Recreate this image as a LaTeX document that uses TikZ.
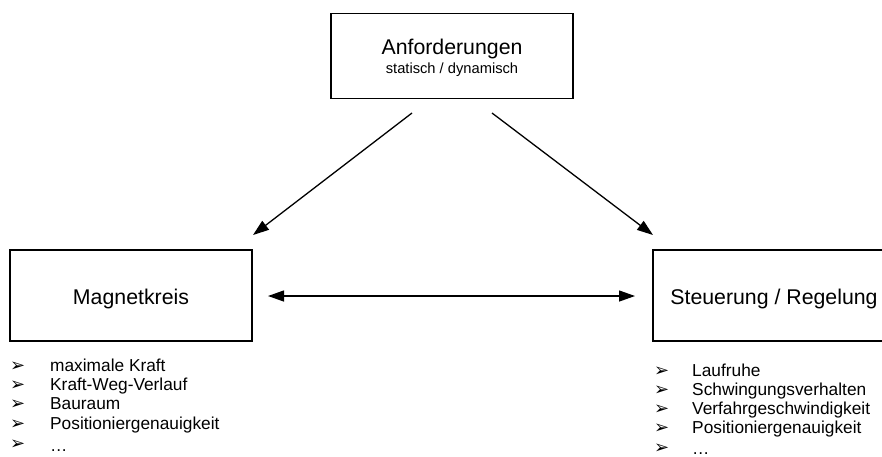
\documentclass[tikz,border=0pt]{standalone}
\usepackage{fontspec}
\setmainfont{Liberation Sans}
\newfontfamily\dejavu{DejaVu Sans}
\usetikzlibrary{arrows.meta}
\tikzset{
  box/.style={draw=black, line width=1.5pt, minimum width=242pt, minimum height=91pt, inner sep=0pt},
  boxtext/.style={font=\fontsize{21.3}{24}\selectfont},
  conn/.style={line width=1.3pt, -{Triangle[length=16pt,width=11pt]}},
  dconn/.style={line width=1.3pt, {Triangle[length=16pt,width=11pt]}-{Triangle[length=16pt,width=11pt]}},
  item/.style={anchor=base west, inner sep=0pt, font=\fontsize{17.3}{20}\selectfont},
  bul/.style={anchor=base west, inner sep=0pt, text height=10pt, text depth=0pt, font=\dejavu\fontsize{18}{20}\selectfont}
}
\begin{document}
\begin{tikzpicture}[x=1pt,y=-1pt]
\clip (0,0) rectangle (882,456);
\fill[white] (0,0) rectangle (882,456);
% boxes
\node[box, minimum height=85pt] (top) at (452,56) {};
\node[boxtext, anchor=base] (toptxt) at (452,54) {Anforderungen};
\node[anchor=base, inner sep=0pt, font=\fontsize{14.7}{16}\selectfont] (topsub) at (452,73) {statisch / dynamisch};
\node[box] (mag) at (131,295.5) {};
\node[boxtext, anchor=base] (magtxt) at (131,304) {Magnetkreis};
\node[box] (ctl) at (774,295.5) {};
\node[boxtext, anchor=base] (ctltxt) at (774,304) {Steuerung / Regelung};
% arrow end points
\coordinate (a1s) at (412,113);
\coordinate (a1e) at (253,235);
\coordinate (a2s) at (492,113);
\coordinate (a2e) at (653,235);
\coordinate (hs) at (268,296);
\coordinate (he) at (635,296);
\draw[conn] (a1s) -- (a1e);
\draw[conn] (a2s) -- (a2e);
\draw[dconn] (hs) -- (he);
% left list
\node[bul] (lb1) at (10,371) {➢};
\node[item] (l1) at (50,371) {maximale Kraft};
\node[bul] (lb2) at (10,390) {➢};
\node[item] (l2) at (50,390) {Kraft-Weg-Verlauf};
\node[bul] (lb3) at (10,409) {➢};
\node[item] (l3) at (50,409) {Bauraum};
\node[bul] (lb4) at (10,429) {➢};
\node[item] (l4) at (50,429) {Positioniergenauigkeit};
\node[bul] (lb5) at (10,449) {➢};
\node[item] (l5) at (50,451) {…};
% right list
\node[bul] (rb1) at (654,376) {➢};
\node[item] (r1) at (692,376) {Laufruhe};
\node[bul] (rb2) at (654,395) {➢};
\node[item] (r2) at (692,395) {Schwingungsverhalten};
\node[bul] (rb3) at (654,414) {➢};
\node[item] (r3) at (692,414) {Verfahrgeschwindigkeit};
\node[bul] (rb4) at (654,433) {➢};
\node[item] (r4) at (692,433) {Positioniergenauigkeit};
\node[bul] (rb5) at (654,453) {➢};
\node[item] (r5) at (692,454) {…};
\end{tikzpicture}
\end{document}
